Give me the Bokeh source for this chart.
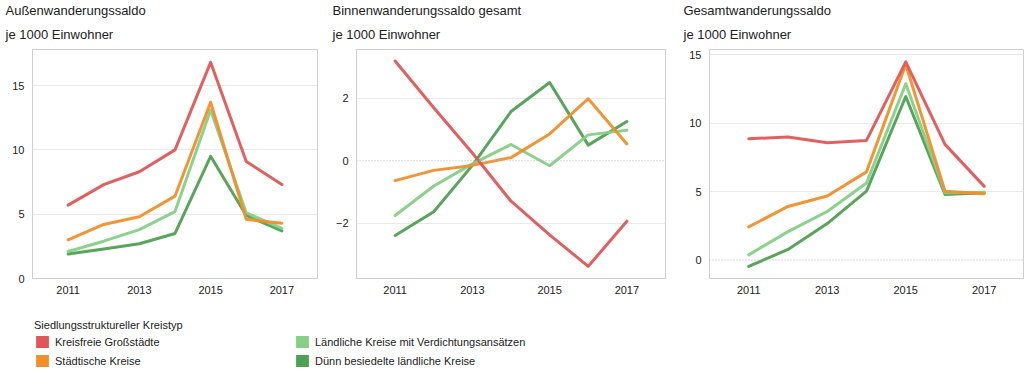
from bokeh.plotting import figure
from bokeh.models import Range1d, FixedTicker, Span, Title, Legend, LegendItem, ColumnDataSource
from bokeh.layouts import column, row
from bokeh.embed import file_html
from bokeh.resources import INLINE

years = [2011, 2012, 2013, 2014, 2015, 2016, 2017]
x_ticks = [2011, 2013, 2015, 2017]
series_names = ["Kreisfreie Großstädte", "Städtische Kreise",
                "Ländliche Kreise mit Verdichtungsansätzen", "Dünn besiedelte ländliche Kreise"]
series_colors = ["#e15759", "#f28e2b", "#86cf86", "#4fa052"]
legend_title = "Siedlungsstruktureller Kreistyp"

# Außenwanderungssaldo je 1000 Einwohner
aussen_kreisfrei = [5.7, 7.3, 8.3, 10.0, 16.8, 9.1, 7.3]
aussen_staedtisch = [3.0, 4.2, 4.8, 6.4, 13.7, 4.6, 4.3]
aussen_laendlich = [2.1, 2.9, 3.8, 5.2, 13.1, 5.1, 3.9]
aussen_duenn = [1.9, 2.3, 2.7, 3.5, 9.5, 4.9, 3.7]

# Binnenwanderungssaldo gesamt je 1000 Einwohner
binnen_kreisfrei = [3.2, 1.7, 0.25, -1.3, -2.38, -3.39, -1.94]
binnen_staedtisch = [-0.64, -0.31, -0.15, 0.1, 0.86, 1.99, 0.54]
binnen_laendlich = [-1.76, -0.81, -0.1, 0.52, -0.16, 0.83, 0.98]
binnen_duenn = [-2.4, -1.64, -0.15, 1.58, 2.51, 0.5, 1.26]

# Gesamtwanderungssaldo je 1000 Einwohner
gesamt_kreisfrei = [8.87, 9.0, 8.58, 8.75, 14.5, 8.46, 5.39]
gesamt_staedtisch = [2.43, 3.92, 4.68, 6.45, 14.3, 5.04, 4.85]
gesamt_laendlich = [0.38, 2.08, 3.55, 5.63, 12.9, 4.92, 4.96]
gesamt_duenn = [-0.47, 0.78, 2.67, 5.04, 11.96, 4.8, 4.92]

FONT = "Liberation Sans"
TXT = "#222222"


def make_panel(line1, line2, series, y_range, y_ticks, grid_ticks, zero_line,
               width, bl, br, title_off):
    p = figure(width=width, height=300, title=None, toolbar_location=None,
               output_backend="svg", x_range=Range1d(2010, 2018), y_range=y_range,
               min_border_left=bl, min_border_right=br, min_border_top=42,
               min_border_bottom=22)
    # second title line (nearest to the frame), then first line above it
    p.add_layout(Title(text=line2, text_font=FONT, text_font_size="13px",
                       text_font_style="normal", text_color=TXT, offset=title_off,
                       standoff=15), "above")
    p.add_layout(Title(text=line1, text_font=FONT, text_font_size="13px",
                       text_font_style="normal", text_color=TXT, offset=title_off,
                       text_line_height=0.7, standoff=0), "above")
    p.outline_line_color = "#cfcfcf"
    p.outline_line_width = 1
    p.xgrid.visible = False
    p.ygrid.ticker = FixedTicker(ticks=grid_ticks)
    p.ygrid.grid_line_color = "#e9e9e9"
    p.ygrid.grid_line_width = 1
    p.xaxis.ticker = FixedTicker(ticks=x_ticks)
    p.yaxis.ticker = FixedTicker(ticks=y_ticks)
    for ax in (p.xaxis, p.yaxis):
        ax.axis_line_color = None
        ax.major_tick_line_color = None
        ax.minor_tick_line_color = None
        ax.major_tick_out = 0
        ax.major_tick_in = 0
        ax.minor_tick_out = 0
        ax.minor_tick_in = 0
        ax.major_label_text_font = FONT
        ax.major_label_text_font_size = "11px"
        ax.major_label_text_color = TXT
    p.xaxis.major_label_standoff = 7
    p.yaxis.major_label_standoff = 8
    if zero_line:
        p.add_layout(Span(location=0, dimension="width", line_color="#b5b5b5",
                          line_dash="1 2", line_width=1))
    # draw order: dark green, light green, orange, red
    for idx in [3, 2, 1, 0]:
        src = ColumnDataSource(dict(x=years, y=series[idx]))
        p.line("x", "y", source=src, line_color=series_colors[idx], line_width=3,
               line_alpha=0.95, line_join="round", line_cap="round")
    return p


p1 = make_panel("Außenwanderungssaldo", "je 1000 Einwohner",
                [aussen_kreisfrei, aussen_staedtisch, aussen_laendlich, aussen_duenn],
                Range1d(0, 17.8), [0, 5, 10, 15], [5, 10, 15], False,
                330, 32, 13, -27)
p2 = make_panel("Binnenwanderungssaldo gesamt", "je 1000 Einwohner",
                [binnen_kreisfrei, binnen_staedtisch, binnen_laendlich, binnen_duenn],
                Range1d(-3.78, 3.57), [-2, 0, 2], [-2, 2], True,
                350, 26, 15, -24)
p3 = make_panel("Gesamtwanderungssaldo", "je 1000 Einwohner",
                [gesamt_kreisfrei, gesamt_staedtisch, gesamt_laendlich, gesamt_duenn],
                Range1d(-1.35, 15.4), [0, 5, 10, 15], [5, 10, 15], True,
                345, 29, 2, -26)

# legend strip
pl = figure(width=1025, height=70, toolbar_location=None, output_backend="svg",
            x_range=Range1d(0, 1), y_range=Range1d(0, 1), min_border=0,
            x_axis_location=None, y_axis_location=None, title=None)
pl.grid.visible = False
pl.outline_line_color = None
rends = []
for name, col in zip(series_names, series_colors):
    # legend proxies: no visible marks
    src = ColumnDataSource(dict(x=[float("nan")], top=[float("nan")]))
    rends.append(pl.vbar(x="x", top="top", width=0.1, source=src, fill_color=col,
                         line_color=None))


def make_legend(items, loc, title=None):
    lg = Legend(items=items, location=loc, orientation="vertical",
                padding=0, margin=0, spacing=4, border_line_color=None,
                background_fill_alpha=0, label_text_font=FONT,
                label_text_font_size="11px", label_text_color=TXT,
                label_height=15, glyph_height=15, glyph_width=16, label_standoff=5)
    if title:
        lg.title = title
        lg.title_text_font = FONT
        lg.title_text_font_size = "11px"
        lg.title_text_font_style = "normal"
        lg.title_text_color = TXT
        lg.title_standoff = 3
    return lg


leg1 = make_legend([LegendItem(label=series_names[0], renderers=[rends[0]]),
                    LegendItem(label=series_names[1], renderers=[rends[1]])],
                   (34, 2), legend_title)
leg2 = make_legend([LegendItem(label=series_names[2], renderers=[rends[2]]),
                    LegendItem(label=series_names[3], renderers=[rends[3]])],
                   (294, 2))
pl.add_layout(leg1, "center")
pl.add_layout(leg2, "center")

layout = column(row(p1, p2, p3), pl)
open("out.html", "w").write(file_html(layout, INLINE))
